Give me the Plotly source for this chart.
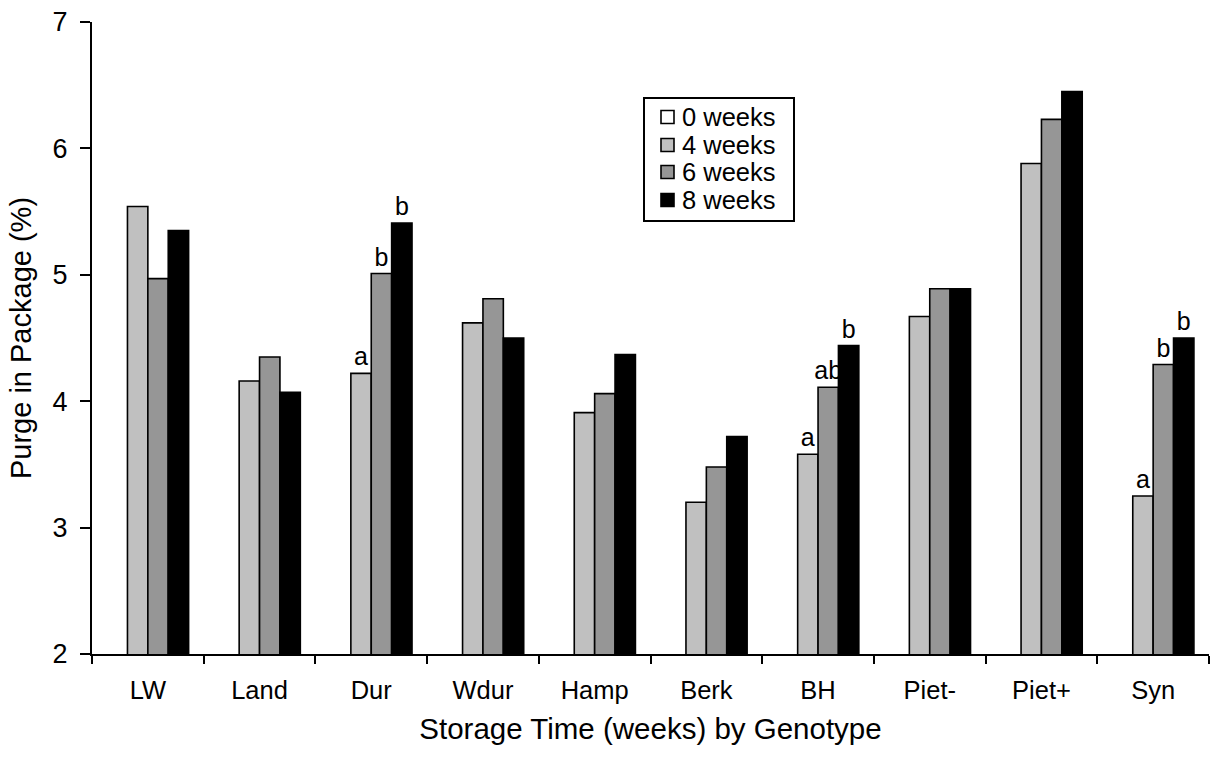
import plotly.graph_objects as go

# Purge in package (%) by genotype and storage time
genotypes = ["LW", "Land", "Dur", "Wdur", "Hamp", "Berk", "BH", "Piet-", "Piet+", "Syn"]
series_names = ["0 weeks", "4 weeks", "6 weeks", "8 weeks"]
week0 = [None] * 10
week4 = [5.54, 4.16, 4.22, 4.62, 3.91, 3.20, 3.58, 4.67, 5.88, 3.25]
week6 = [4.97, 4.35, 5.01, 4.81, 4.06, 3.48, 4.11, 4.89, 6.23, 4.29]
week8 = [5.35, 4.07, 5.41, 4.50, 4.37, 3.72, 4.44, 4.89, 6.45, 4.50]

# Significance letters shown above the bars
letters0 = [""] * 10
letters4 = ["", "", "a", "", "", "", "a", "", "", "a"]
letters6 = ["", "", "b", "", "", "", "ab", "", "", "b"]
letters8 = ["", "", "b", "", "", "", "b", "", "", "b"]

colors = ["#FFFFFF", "#C0C0C0", "#969696", "#000000"]
FONT = "Liberation Sans, Arial, sans-serif"

W, H = 1211, 758
L, R, T, B = 92, 2, 22, 104
PW, PH = W - L - R, H - T - B


def px(x):
    return (x - L) / PW


def py(y):
    return (H - B - y) / PH


fig = go.Figure()
for name, vals, txt, col in zip(series_names,
                                [week0, week4, week6, week8],
                                [letters0, letters4, letters6, letters8],
                                colors):
    fig.add_trace(go.Bar(
        x=genotypes, y=vals, name=name,
        marker=dict(color=col, line=dict(color="#000000", width=1.6)),
        text=txt, textposition="outside", constraintext="none",
        textfont=dict(family=FONT, size=25, color="#000000"),
        cliponaxis=False, showlegend=False,
    ))

# Legend box drawn in paper space
shapes = [dict(type="rect", xref="paper", yref="paper",
               x0=px(644), x1=px(794), y0=py(221), y1=py(98),
               line=dict(color="#000000", width=2), fillcolor="#FFFFFF", layer="above")]
annotations = []
row_y = [117, 145, 172, 200]
for name, col, ry in zip(series_names, colors, row_y):
    shapes.append(dict(type="rect", xref="paper", yref="paper",
                       x0=px(661), x1=px(674), y0=py(ry + 6.5), y1=py(ry - 6.5),
                       line=dict(color="#000000", width=1.6), fillcolor=col, layer="above"))
    annotations.append(dict(xref="paper", yref="paper", x=px(680), y=py(ry),
                            text=name, showarrow=False, xanchor="left", yanchor="middle",
                            font=dict(family=FONT, size=25.5, color="#000000")))

fig.update_layout(
    width=W, height=H,
    margin=dict(l=L, r=R, t=T, b=B),
    paper_bgcolor="#FFFFFF", plot_bgcolor="#FFFFFF",
    barmode="group", bargap=0.27, bargroupgap=0,
    font=dict(family=FONT, color="#000000"),
    shapes=shapes, annotations=annotations,
    xaxis=dict(
        type="category", range=[-0.5, 9.5], tickson="boundaries",
        showline=True, linecolor="#000000", linewidth=2,
        ticks="outside", ticklen=8, tickwidth=2, tickcolor="#000000",
        ticklabelstandoff=12,
        tickfont=dict(family=FONT, size=25.5, color="#000000"),
        showgrid=False, zeroline=False, automargin=False,
        title=dict(text="Storage Time (weeks) by Genotype", standoff=16,
                   font=dict(family=FONT, size=29.5, color="#000000")),
    ),
    yaxis=dict(
        range=[2, 7], dtick=1, tick0=2,
        showline=True, linecolor="#000000", linewidth=2,
        ticks="outside", ticklen=10, tickwidth=2, tickcolor="#000000",
        ticklabelstandoff=7,
        tickfont=dict(family=FONT, size=27, color="#000000"),
        showgrid=False, zeroline=False, automargin=False,
        title=dict(text="Purge in Package (%)", standoff=12,
                   font=dict(family=FONT, size=29, color="#000000")),
    ),
)

fig.write_html("out.html")
